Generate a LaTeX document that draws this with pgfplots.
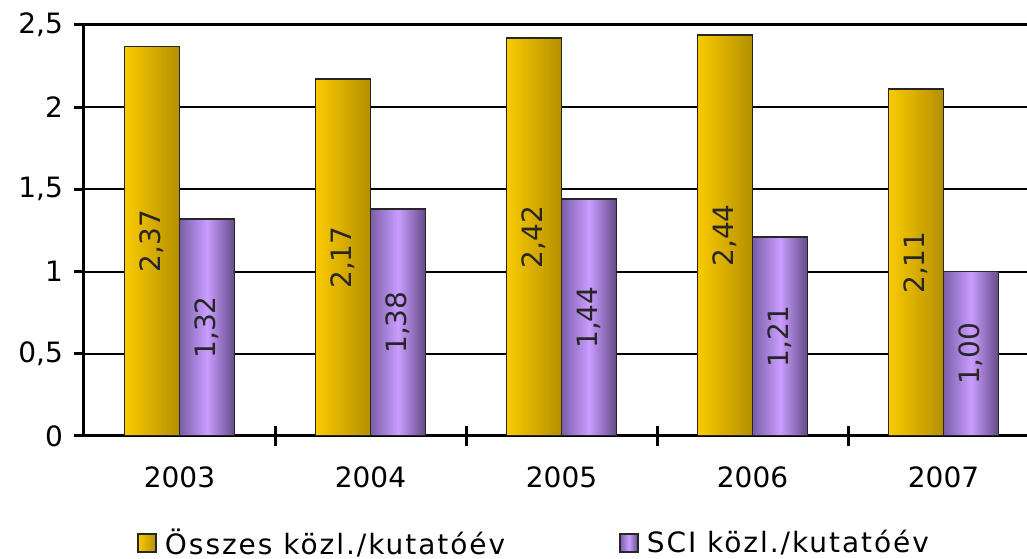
\documentclass[border=0pt]{standalone}
\usepackage{pgfplots}
\pgfplotsset{compat=1.18}
\usepackage{fontspec}
\setmainfont{DejaVu Sans}
\usetikzlibrary{calc}
\definecolor{goldL}{HTML}{FACA00}
\definecolor{goldR}{HTML}{B48F00}
\definecolor{purL}{HTML}{7A5EA8}
\definecolor{purM}{HTML}{C99DFF}
\definecolor{purR}{HTML}{654A88}
\newcommand{\chartfont}{\fontsize{14}{16}\selectfont}
\newcommand{\legfont}{\fontsize{14}{16}\selectfont\addfontfeatures{LetterSpace=7}}
\pgfplotsset{
  barbase/.style={ybar, bar width=27.5pt, draw=black!85, line width=0.8pt,
    legend image code/.code={\draw[##1] (0pt,-4.5pt) rectangle (9pt,4.5pt);}},
  goldbar/.style={barbase, bar shift=-13.75pt, left color=goldL, right color=goldR,
    every node near coord/.style={xshift=-13.75pt, yshift={-\rawy*41.1pt}, rotate=90, anchor=center, font=\chartfont, text=black!85}},
  purbar/.style={barbase, bar shift=13.75pt, left color=purL, right color=purR, middle color=purM,
    every node near coord/.style={xshift=13.75pt, yshift={-\rawy*41.1pt}, rotate=90, anchor=center, font=\chartfont, text=black!85}},
}
\begin{document}
\begin{tikzpicture}
\begin{axis}[
  name=ax,
  scale only axis,
  width=471.5pt, height=205.5pt,
  xmin=-0.5, xmax=4.437, ymin=0, ymax=2.5,
  axis x line*=bottom, axis y line*=left,
  axis line style={line width=1.5pt, black},
  xtick={0,1,2,3,4}, xticklabels={2003,2004,2005,2006,2007},
  minor xtick={0.5,1.5,2.5,3.5},
  major x tick style={draw=none},
  minor x tick style={line width=1.5pt, black},
  xtick align=center,
  minor tick length=10pt,
  ytick={0,0.5,1,1.5,2,2.5},
  ytick align=outside,
  major tick length=5pt,
  y tick style={line width=1.5pt, black},
  ymajorgrids,
  grid style={black, line width=1pt},
  extra y ticks={2.5},
  extra y tick labels={},
  extra y tick style={grid style={black, line width=1.5pt}},
  /pgf/number format/use comma,
  /pgf/number format/assume math mode=true,
  tick label style={font=\chartfont},
  yticklabel style={xshift=-2pt},
  xticklabel style={yshift=-9.5pt},
  nodes near coords={\pgfmathprintnumber[fixed,fixed zerofill,precision=2,use comma,assume math mode=true]{\pgfplotspointmeta}},
  visualization depends on={rawy \as \rawy},
  legend columns=2,
  legend style={at={(0.0562,-0.26)}, anchor=west, draw=none, fill=none, inner sep=0pt, font=\legfont,
    /tikz/every even column/.append style={column sep=55pt}},
]
\addplot[goldbar] coordinates {(0,2.37)};
\addplot[purbar] coordinates {(0,1.32)};
\addplot[goldbar, forget plot] coordinates {(1,2.17)};
\addplot[purbar, forget plot] coordinates {(1,1.38)};
\addplot[goldbar, forget plot] coordinates {(2,2.42)};
\addplot[purbar, forget plot] coordinates {(2,1.44)};
\addplot[goldbar, forget plot] coordinates {(3,2.44)};
\addplot[purbar, forget plot] coordinates {(3,1.21)};
\addplot[goldbar, forget plot] coordinates {(4,2.11)};
\addplot[purbar, forget plot] coordinates {(4,1.00)};
\legend{\hspace{2pt}Összes közl./kutatóév, \hspace{2pt}SCI közl./kutatóév}
\end{axis}
\pgfresetboundingbox
\path ($(ax.south west)+(-42pt,-61.5pt)$) rectangle ($(ax.north east)+(0pt,12.5pt)$);
\end{tikzpicture}
\end{document}
